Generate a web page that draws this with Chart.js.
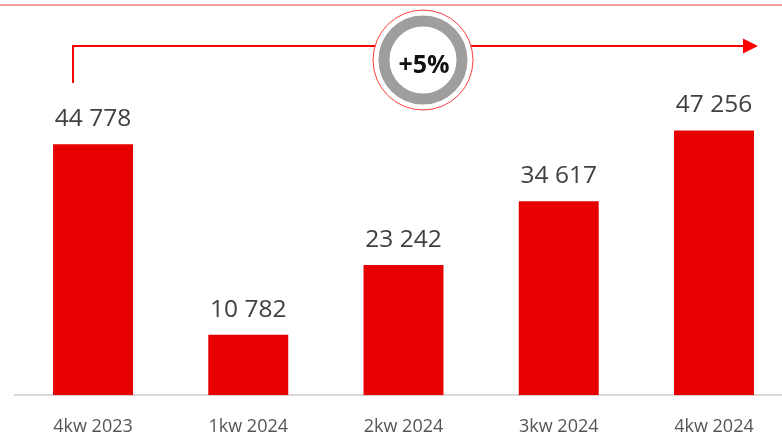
<!DOCTYPE html>
<html lang="pl">
<head>
<meta charset="utf-8">
<title>Wyniki kwartalne</title>
<script src="https://cdn.jsdelivr.net/npm/chart.js@4/dist/chart.umd.min.js"></script>
<style>
    html, body { margin: 0; padding: 0; background: #fff; overflow: hidden; }
    #wrap { width: 800px; height: 460px; }
</style>
</head>
<body>
<div id="wrap"><canvas id="wykres" width="800" height="460"></canvas></div>
<script>
// Dane wykresu
const kwartaly = ['4kw 2023', '1kw 2024', '2kw 2024', '3kw 2024', '4kw 2024'];
const wartosci = [44778, 10782, 23242, 34617, 47256];
const zmianaRdr = '+5%';

const CZERWONY = '#e60000';

// Formatowanie liczb ze spacją jako separatorem tysięcy
const formatujLiczbe = (v) => String(v).replace(/\B(?=(\d{3})+(?!\d))/g, ' ');

// Etykiety wartości nad słupkami
const etykietyPlugin = {
    id: 'etykiety',
    afterDatasetsDraw(chart) {
        const ctx = chart.ctx;
        const meta = chart.getDatasetMeta(0);
        ctx.save();
        ctx.font = '24.5px "Open Sans"';
        ctx.fillStyle = '#404040';
        ctx.textAlign = 'center';
        ctx.textBaseline = 'alphabetic';
        meta.data.forEach((bar, i) => {
            ctx.fillText(formatujLiczbe(wartosci[i]), bar.x, bar.y - 18);
        });
        ctx.restore();
    }
};

// Dekoracje: górna linia, strzałka i znaczek ze zmianą r/r
const dekoracjePlugin = {
    id: 'dekoracje',
    afterDraw(chart) {
        const ctx = chart.ctx;
        ctx.save();

        // cienka linia u góry
        ctx.strokeStyle = 'rgb(240,128,128)';
        ctx.lineWidth = 1.5;
        ctx.beginPath();
        ctx.moveTo(0, 5);
        ctx.lineTo(chart.width, 5);
        ctx.stroke();

        // strzałka
        ctx.strokeStyle = '#ff0000';
        ctx.lineWidth = 2;
        ctx.beginPath();
        ctx.moveTo(73, 83);
        ctx.lineTo(73, 46);
        ctx.lineTo(745, 46);
        ctx.stroke();
        ctx.fillStyle = '#ff0000';
        ctx.beginPath();
        ctx.moveTo(743, 38.5);
        ctx.lineTo(758, 46);
        ctx.lineTo(743, 53.5);
        ctx.closePath();
        ctx.fill();

        // koło ze zmianą
        const cx = 423, cy = 60;
        ctx.fillStyle = '#fff';
        ctx.strokeStyle = '#ff3b3b';
        ctx.lineWidth = 1;
        ctx.beginPath();
        ctx.arc(cx, cy, 50, 0, Math.PI * 2);
        ctx.fill();
        ctx.stroke();

        ctx.strokeStyle = '#9e9e9e';
        ctx.lineWidth = 11;
        ctx.beginPath();
        ctx.arc(cx, cy, 39, 0, Math.PI * 2);
        ctx.stroke();

        ctx.fillStyle = '#111';
        ctx.font = 'bold 25px "Open Sans"';
        ctx.textAlign = 'center';
        ctx.textBaseline = 'alphabetic';
        ctx.fillText(zmianaRdr, cx + 1, 73);

        ctx.restore();
    }
};

new Chart(document.getElementById('wykres'), {
    type: 'bar',
    data: {
        labels: kwartaly,
        datasets: [{
            data: wartosci,
            backgroundColor: CZERWONY,
            borderWidth: 0,
            barPercentage: 0.515,
            categoryPercentage: 1
        }]
    },
    options: {
        responsive: false,
        animation: false,
        layout: { padding: { left: 15.4, right: 8.4, top: 59, bottom: 1.2 } },
        plugins: { legend: { display: false }, tooltip: { enabled: false } },
        scales: {
            x: {
                grid: { display: false, drawTicks: false },
                border: { display: true, color: '#d9d9d9', width: 2 },
                ticks: {
                    color: '#555555',
                    padding: 21,
                    font: { family: '"Open Sans"', size: 18, lineHeight: 1.2 }
                }
            },
            y: {
                display: false,
                min: 0,
                max: 60000
            }
        }
    },
    plugins: [etykietyPlugin, dekoracjePlugin]
});
</script>
</body>
</html>
